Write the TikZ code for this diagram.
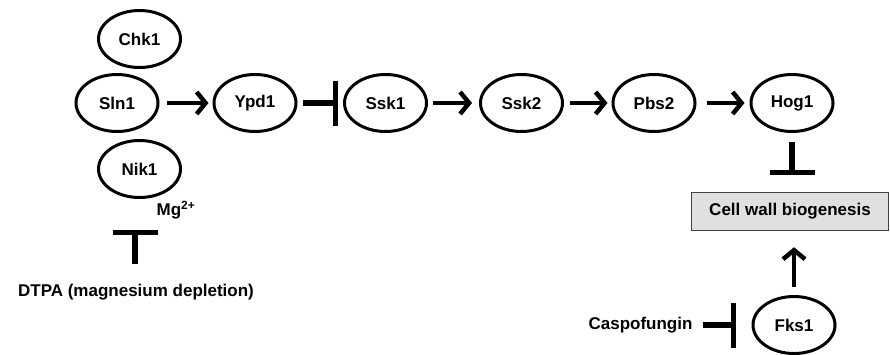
\documentclass[tikz,border=0pt]{standalone}
\usepackage{fontspec}
\setmainfont{Liberation Sans}
\usetikzlibrary{shapes.geometric,arrows.meta}
\tikzset{
  prot/.style={ellipse, draw, line width=3pt, minimum width=82pt, minimum height=57pt, inner sep=0pt},
  lbl/.style={inner sep=0pt, font=\fontsize{17}{20}\selectfont\bfseries},
  act/.style={line width=4.5pt, -{Straight Barb[length=9pt,width=22pt,line width=4.5pt]}},
  inh/.style={line width=6pt, -{Bar[width=45pt,line width=5pt]}},
  procbox/.style={draw=black!75, line width=1.5pt, fill=black!12, minimum width=197pt, minimum height=38pt, inner sep=0pt},
}
\begin{document}
\begin{tikzpicture}[x=1pt, y=-1pt, every node/.append style={font=\fontsize{17}{20}\selectfont\bfseries}]
\useasboundingbox (0,0) rectangle (890,354);

% two-component phosphorelay and MAPK cascade
\node[prot] (chk1) at (139.5,39) {Chk1};
\node[prot] (sln1) at (117,103) {Sln1};
\node[prot] (nik1) at (139.5,169) {Nik1};
\node[prot] (ypd1) at (255,103) {Ypd1};
\node[prot] (ssk1) at (385.5,103) {Ssk1};
\node[prot] (ssk2) at (521.5,103) {Ssk2};
\node[prot] (pbs2) at (654,103) {Pbs2};
\node[prot] (hog1) at (792,103) {Hog1};

\draw[act, shorten <=7pt, shorten >=4pt] (sln1) -- (ypd1);
\draw[inh, shorten <=5pt, shorten >=5pt] (ypd1) -- (ssk1);
\draw[act, shorten <=5pt, shorten >=7pt] (ssk1) -- (ssk2);
\draw[act, shorten <=6pt, shorten >=4pt] (ssk2) -- (pbs2);
\draw[act, shorten <=10pt, shorten >=5pt] (pbs2) -- (hog1);

% magnesium and its depletion
\node[lbl] (mg) at (176,210) {Mg\textsuperscript{2+}};
\node[lbl] (dtpa) at (136,292) {DTPA (magnesium depletion)};
\coordinate (mgbar) at (135,230);
\draw[inh, shorten <=20pt] (dtpa.north -| mgbar) -- (mgbar);

% cell wall output
\node[procbox] (cw) at (790,211.5) {Cell wall biogenesis};
\draw[inh, shorten <=9pt, shorten >=17pt] (hog1.south) -- (hog1.south |- cw.north);

\node[prot] (fks1) at (794,325) {Fks1};
\draw[act, shorten <=8pt, shorten >=16pt] (fks1.north) -- (fks1.north |- cw.south);

\node[lbl] (caspo) at (640.5,325) {Caspofungin};
\draw[inh, shorten <=10pt, shorten >=16pt] (caspo) -- (fks1);
\end{tikzpicture}
\end{document}
